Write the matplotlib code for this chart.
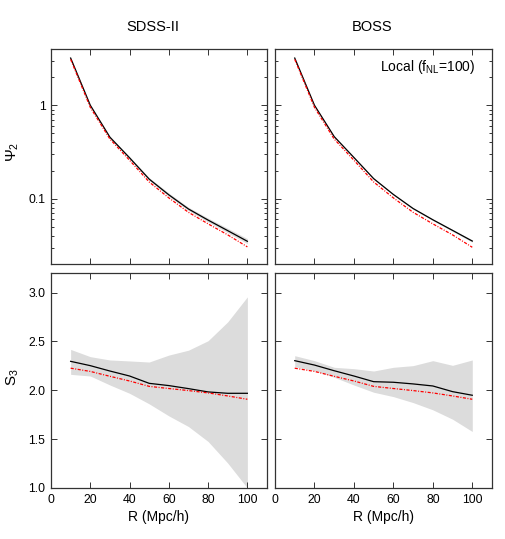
import matplotlib
matplotlib.use("Agg")
import matplotlib.pyplot as plt
import numpy as np
from matplotlib.ticker import FixedLocator, FixedFormatter, LogLocator, NullFormatter

plt.rcParams['font.family'] = ['Liberation Sans', 'DejaVu Sans']
plt.rcParams['mathtext.fontset'] = 'custom'
plt.rcParams['mathtext.rm'] = 'Liberation Sans'
plt.rcParams['mathtext.it'] = 'Liberation Sans:italic'
plt.rcParams['mathtext.bf'] = 'Liberation Sans:bold'

R = [10, 20, 30, 40, 50, 60, 70, 80, 90, 100]

# Psi_2 (top row)
psi_sdss_mean = [3.2, 1.0, 0.455, 0.274, 0.162, 0.110, 0.0776, 0.059, 0.0455, 0.035]
psi_sdss_lo = [3.12, 0.975, 0.443, 0.266, 0.157, 0.106, 0.0745, 0.0563, 0.0432, 0.0330]
psi_sdss_hi = [3.28, 1.025, 0.467, 0.282, 0.168, 0.115, 0.0810, 0.0620, 0.0482, 0.0374]
psi_sdss_model = [3.1, 0.95, 0.435, 0.258, 0.151, 0.102, 0.0715, 0.0538, 0.0410, 0.0305]

psi_boss_mean = [3.2, 1.0, 0.462, 0.276, 0.164, 0.111, 0.0785, 0.0595, 0.0458, 0.0352]
psi_boss_lo = [3.15, 0.985, 0.455, 0.271, 0.161, 0.109, 0.0770, 0.0583, 0.0447, 0.0342]
psi_boss_hi = [3.25, 1.015, 0.469, 0.281, 0.167, 0.113, 0.0800, 0.0607, 0.0469, 0.0362]
psi_boss_model = [3.1, 0.95, 0.435, 0.258, 0.151, 0.102, 0.0715, 0.0538, 0.0410, 0.0302]

# S_3 (bottom row)
s3_sdss_mean = [2.296, 2.252, 2.197, 2.146, 2.071, 2.048, 2.017, 1.983, 1.969, 1.969]
s3_sdss_lo = [2.163, 2.146, 2.054, 1.969, 1.861, 1.738, 1.629, 1.476, 1.255, 1.0]
s3_sdss_hi = [2.418, 2.344, 2.31, 2.30, 2.289, 2.36, 2.41, 2.507, 2.70, 2.956]
s3_model = [2.226, 2.193, 2.143, 2.095, 2.040, 2.018, 1.997, 1.973, 1.942, 1.908]

s3_boss_mean = [2.303, 2.258, 2.2, 2.146, 2.088, 2.082, 2.065, 2.044, 1.986, 1.949]
s3_boss_lo = [2.241, 2.2, 2.133, 2.054, 1.98, 1.935, 1.874, 1.8, 1.704, 1.578]
s3_boss_hi = [2.354, 2.303, 2.235, 2.221, 2.197, 2.235, 2.252, 2.303, 2.255, 2.31]

titles = ["SDSS-II", "BOSS"]
xticks = [0, 20, 40, 60, 80, 100]

W, H = 506, 539
fig = plt.figure(figsize=(W / 100, H / 100), dpi=100)

def ax_at(x0, y0, x1, y1):
    return fig.add_axes([x0 / W, 1 - y1 / H, (x1 - x0) / W, (y1 - y0) / H])

ax_tl = ax_at(51, 49, 267, 264)
ax_tr = ax_at(275, 49, 492, 264)
ax_bl = ax_at(51, 273, 267, 488)
ax_br = ax_at(275, 273, 492, 488)

band_color = '#dcdcdc'
spine_color = '#333333'
model_ls = (0, (2.5, 1.2, 0.8, 1.2))

def style(ax):
    for s in ax.spines.values():
        s.set_color(spine_color)
        s.set_linewidth(0.9)
    ax.tick_params(which='both', direction='in', top=True, right=True,
                   color=spine_color, labelsize=8.8, width=0.7)
    ax.tick_params(which='major', length=4, pad=4)
    ax.tick_params(which='minor', length=2.5)
    ax.set_xlim(0, 110)
    ax.set_xticks(xticks)

# top row
for ax, mean, lo, hi, model in [(ax_tl, psi_sdss_mean, psi_sdss_lo, psi_sdss_hi, psi_sdss_model),
                                 (ax_tr, psi_boss_mean, psi_boss_lo, psi_boss_hi, psi_boss_model)]:
    ax.fill_between(R, lo, hi, color=band_color, lw=0)
    ax.plot(R, mean, color='black', lw=0.9)
    ax.plot(R, model, color='red', lw=0.9, ls=model_ls)
    ax.set_yscale('log')
    ax.set_ylim(0.02, 4)
    style(ax)
    ax.yaxis.set_major_locator(FixedLocator([0.1, 1]))
    ax.yaxis.set_major_formatter(FixedFormatter(['0.1', '1']))
    ax.yaxis.set_minor_locator(LogLocator(base=10, subs=np.arange(2, 10)))
    ax.yaxis.set_minor_formatter(NullFormatter())
    ax.tick_params(labelbottom=False)

# bottom row
for ax, mean, lo, hi in [(ax_bl, s3_sdss_mean, s3_sdss_lo, s3_sdss_hi),
                         (ax_br, s3_boss_mean, s3_boss_lo, s3_boss_hi)]:
    ax.fill_between(R, lo, hi, color=band_color, lw=0)
    ax.plot(R, mean, color='black', lw=0.9)
    ax.plot(R, s3_model, color='red', lw=0.9, ls=model_ls)
    ax.set_ylim(1.0, 3.2)
    style(ax)
    ax.set_yticks([1.0, 1.5, 2.0, 2.5, 3.0])
    ax.set_yticklabels(['1.0', '1.5', '2.0', '2.5', '3.0'])
    ax.set_xlabel('R (Mpc/h)', fontsize=10, labelpad=3)

ax_tr.tick_params(labelleft=False)
ax_br.tick_params(labelleft=False)

ax_tl.set_ylabel(r'$\Psi_2$', fontsize=11)
ax_bl.set_ylabel(r'S$_3$', fontsize=11)
ax_tl.yaxis.set_label_coords(-0.14, 0.52)
ax_bl.yaxis.set_label_coords(-0.14, 0.515)

ax_tr.text(0.926, 0.915, r'Local (f$_{\mathrm{NL}}$=100)', transform=ax_tr.transAxes,
           ha='right', va='center', fontsize=10)

fig.text(153 / W, 1 - 27 / H, titles[0], ha='center', va='center', fontsize=10.5)
fig.text(372 / W, 1 - 27 / H, titles[1], ha='center', va='center', fontsize=10.5)

fig.savefig('out.png', dpi=100)
